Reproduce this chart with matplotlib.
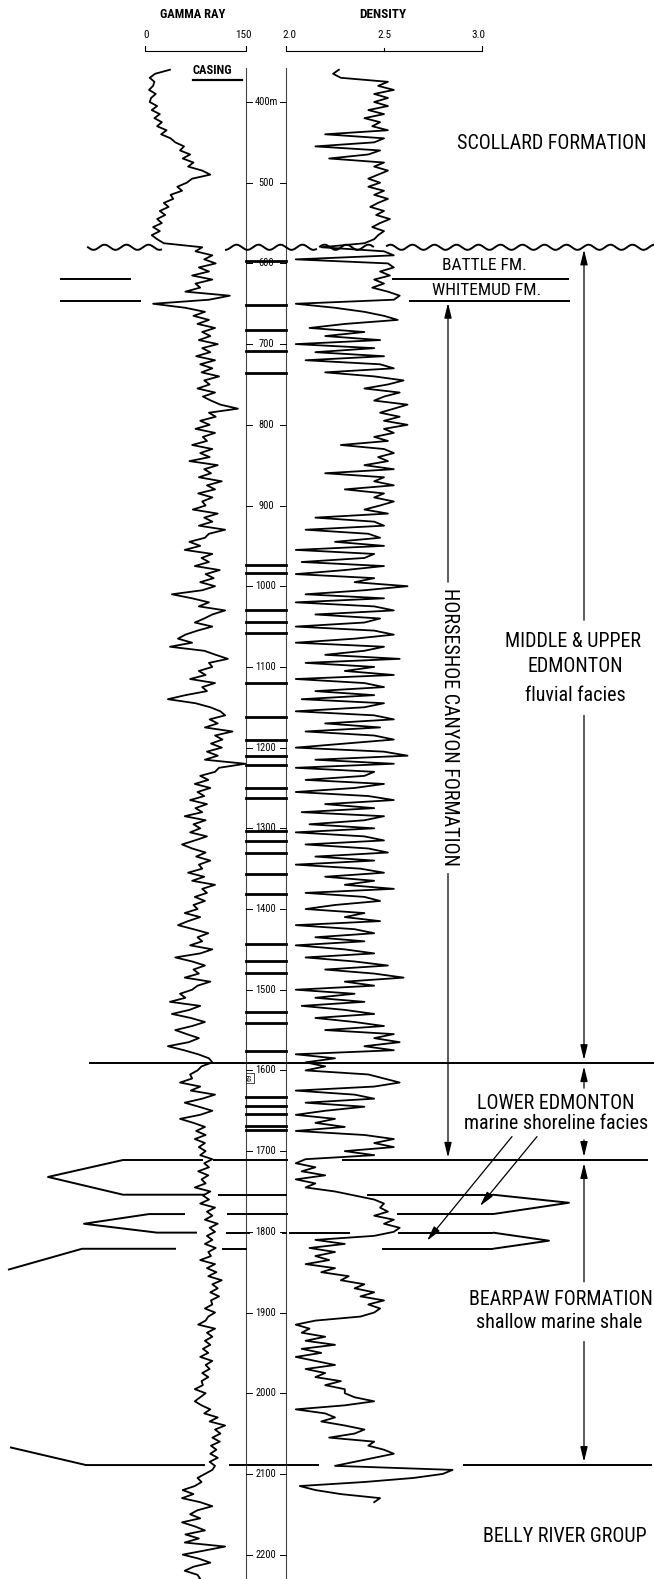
import numpy as np
import matplotlib.pyplot as plt
from matplotlib import font_manager as fm

W, H = 654, 1579
TOP, BOTTOM = 273.6, 2230.2          # depth (m) at the top / bottom edge of the sheet

# condensed lettering if a narrow face is installed, otherwise shrink a normal one
avail = {f.name for f in fm.fontManager.ttflist}
FAM, K = 'DejaVu Sans', 0.78
for name, k in [('Liberation Sans Narrow', 1.0), ('Roboto Condensed', 1.0),
                ('Liberation Sans', 0.85), ('Roboto', 0.87)]:
    if name in avail:
        FAM, K = name, k
        break
NARROW = [FAM, 'DejaVu Sans']

# gamma ray log (API), every 5 m from 360 m
gr_depth = np.arange(360, 2240, 5)
gr_api = [37, 15, 7, 14, 12, 6, 16, 9,
          7, 18, 10, 22, 14, 25, 18, 32, 24, 38, 45, 58, 52, 67, 56, 72, 64, 85, 97, 70,
          62, 48, 55, 38, 42, 28, 35, 22, 30, 18, 25, 12, 22, 10, 18, 28, 85, 75, 100, 88,
          105, 80, 95, 70, 100, 75, 82, 60, 126, 95, 12, 60, 89, 72, 95, 78, 104, 85, 97, 80,
          108, 85, 97, 76, 104, 82, 100, 84, 110, 88, 96, 78, 104, 86, 98, 112, 138, 95, 105, 82,
          96, 75, 104, 86, 92, 70, 100, 82, 96, 66, 108, 88, 98, 80, 114, 92, 104, 79, 100, 85,
          90, 71, 108, 88, 100, 80, 119, 95, 89, 66, 82, 59, 100, 84, 95, 74, 111, 90, 102, 82,
          104, 85, 40, 70, 95, 80, 119, 100, 88, 74, 100, 78, 60, 49, 70, 37, 88, 105, 123, 95,
          100, 80, 90, 67, 104, 85, 92, 60, 34, 75, 97, 112, 119, 96, 108, 89, 130, 104, 115, 98,
          114, 92, 108, 89, 149, 110, 104, 82, 94, 74, 97, 78, 88, 67, 92, 75, 85, 59, 90, 72,
          82, 67, 92, 74, 55, 70, 90, 76, 97, 80, 85, 64, 88, 70, 104, 85, 92, 74, 89, 72,
          78, 59, 82, 64, 49, 72, 94, 78, 85, 67, 100, 82, 45, 70, 89, 72, 80, 59, 97, 78,
          70, 52, 60, 37, 82, 66, 40, 68, 89, 70, 45, 62, 80, 65, 34, 58, 79, 95, 100, 84,
          78, 67, 70, 52, 82, 68, 104, 85, 59, 80, 100, 82, 52, 72, 89, 76, 90, 74, 89, 80,
          90, 82, 100, 88, 95, 79, 94, 84, 90, 74, 97, 86, 95, 82, 104, 92, 100, 89, 108, 96,
          104, 92, 100, 89, 105, 94, 98, 82, 104, 92, 106, 94, 114, 100, 108, 97, 110, 98, 100, 89,
          104, 94, 90, 79, 104, 92, 100, 89, 97, 86, 94, 82, 100, 90, 96, 85, 94, 84, 86, 74,
          90, 82, 74, 84, 97, 88, 108, 96, 119, 104, 112, 100, 111, 98, 106, 97, 108, 96, 104, 100,
          89, 78, 84, 74, 56, 72, 55, 82, 100, 78, 67, 82, 55, 74, 89, 60, 80, 59, 119, 88,
          56, 80, 97, 72, 59, 78, 82, 70]

# bulk density log (g/cc), every 5 m from 360 m
den_depth = np.arange(360, 2140, 5)
den_rho = [2.27, 2.24, 2.28, 2.52, 2.47, 2.55, 2.45, 2.52,
           2.45, 2.52, 2.42, 2.50, 2.40, 2.48, 2.44, 2.52, 2.20, 2.50, 2.45, 2.15, 2.48, 2.42, 2.22, 2.50, 2.45, 2.52, 2.47, 2.42,
           2.48, 2.42, 2.50, 2.45, 2.52, 2.47, 2.43, 2.50, 2.46, 2.53, 2.48, 2.44, 2.50, 2.47, 2.45, 2.40, 2.18, 2.50, 2.55, 2.05,
           2.52, 2.55, 2.48, 2.53, 2.45, 2.50, 2.44, 2.52, 2.58, 2.55, 2.05, 2.25, 2.40, 2.50, 2.57, 2.30, 2.12, 2.40, 2.20, 2.48,
           2.05, 2.45, 2.15, 2.50, 2.10, 2.48, 2.55, 2.20, 2.45, 2.60, 2.52, 2.40, 2.58, 2.50, 2.45, 2.62, 2.55, 2.48, 2.58, 2.50,
           2.62, 2.50, 2.55, 2.45, 2.52, 2.28, 2.50, 2.55, 2.47, 2.52, 2.40, 2.55, 2.20, 2.50, 2.45, 2.55, 2.30, 2.50, 2.45, 2.55,
           2.48, 2.40, 2.52, 2.15, 2.45, 2.50, 2.10, 2.42, 2.48, 2.25, 2.50, 2.05, 2.45, 2.40, 2.08, 2.50, 2.30, 2.05, 2.45, 2.35,
           2.62, 2.40, 2.10, 2.50, 2.05, 2.45, 2.55, 2.15, 2.48, 2.40, 2.05, 2.45, 2.55, 2.35, 2.05, 2.50, 2.40, 2.20, 2.58, 2.10,
           2.45, 2.30, 2.55, 2.05, 2.40, 2.50, 2.15, 2.45, 2.08, 2.50, 2.40, 2.05, 2.45, 2.55, 2.20, 2.48, 2.10, 2.45, 2.55, 2.30,
           2.05, 2.50, 2.62, 2.15, 2.55, 2.05, 2.45, 2.40, 2.10, 2.50, 2.35, 2.05, 2.42, 2.55, 2.20, 2.45, 2.08, 2.50, 2.40, 2.12,
           2.45, 2.05, 2.40, 2.50, 2.10, 2.42, 2.52, 2.15, 2.45, 2.05, 2.38, 2.50, 2.20, 2.45, 2.30, 2.55, 2.10, 2.40, 2.48, 2.25,
           2.10, 2.40, 2.30, 2.48, 2.05, 2.35, 2.45, 2.15, 2.40, 2.05, 2.30, 2.45, 2.10, 2.35, 2.52, 2.20, 2.45, 2.60, 2.30, 2.45,
           2.05, 2.35, 2.15, 2.40, 2.08, 2.30, 2.45, 2.15, 2.35, 2.50, 2.20, 2.55, 2.45, 2.58, 2.40, 2.55, 2.05, 2.25, 2.10, 2.20,
           2.10, 2.42, 2.50, 2.58, 2.45, 2.05, 2.35, 2.45, 2.10, 2.40, 2.20, 2.05, 2.25, 2.15, 2.30, 2.05, 2.40, 2.55, 2.45, 2.55,
           2.30, 2.45, 2.10, 2.05, 2.15, 2.08, 2.20, 2.05, 2.15, 2.10, 2.25, 2.35, 2.45, 2.50, 2.48, 2.52, 2.45, 2.55, 2.50, 2.58,
           2.55, 2.45, 2.15, 2.30, 2.12, 2.25, 2.15, 2.22, 2.10, 2.25, 2.18, 2.32, 2.28, 2.40, 2.35, 2.45, 2.38, 2.50, 2.42, 2.48,
           2.45, 2.38, 2.15, 2.05, 2.12, 2.08, 2.20, 2.10, 2.25, 2.08, 2.18, 2.05, 2.15, 2.25, 2.10, 2.20, 2.15, 2.28, 2.20, 2.30,
           2.30, 2.35, 2.45, 2.30, 2.05, 2.20, 2.25, 2.18, 2.30, 2.40, 2.35, 2.22, 2.45, 2.42, 2.50, 2.55, 2.45, 2.35, 2.25, 2.85,
           2.80, 2.65, 2.40, 2.07, 2.15, 2.28, 2.48, 2.45]

# coal seams marked in the depth column (m)
coal_depths = [597, 651, 682, 709, 736, 974, 984, 1029, 1044, 1058, 1120, 1162,
               1190, 1210, 1222, 1250, 1262, 1303, 1316, 1330, 1356, 1382, 1443,
               1465, 1479, 1527, 1541, 1576, 1633, 1644, 1654, 1669, 1674]
depth_ticks = np.arange(400, 2201, 100)
depth_labels = ['400m'] + [str(d) for d in depth_ticks[1:]]

# formation picks (m)
unconformity = 580
battle_top, whitemud_top = 619, 647
lower_edm_top, bearpaw_top, belly_top = 1591, 1711, 2089

fig = plt.figure(figsize=(W / 100, H / 100), dpi=100)
ax = fig.add_axes([0, 0, 1, 1])
ax.set_xlim(0, W)
ax.set_ylim(BOTTOM, TOP)
ax.axis('off')

ax_gr = fig.add_axes([145 / W, 0, 101 / W, 1])
ax_gr.set_xlim(0, 150)
ax_den = fig.add_axes([286 / W, 0, 196 / W, 1])
ax_den.set_xlim(2.0, 3.0)
for a in (ax_gr, ax_den):
    a.set_ylim(BOTTOM, TOP)
    a.axis('off')
    a.patch.set_alpha(0)

ax_gr.plot(gr_api, gr_depth, color='k', lw=1.3, clip_on=False)
ax_den.plot(den_rho, den_depth, color='k', lw=1.3, clip_on=False)


def label(x, d, s, size, **kw):
    kw.setdefault('ha', 'center')
    kw.setdefault('va', 'center')
    return ax.text(x, d, s, fontsize=size * K, family=NARROW, **kw)


# headers and scales
label(193, 292, 'GAMMA RAY', 9, fontweight='bold')
label(383, 292, 'DENSITY', 9.5, fontweight='bold')
for x, s in [(146, '0'), (243, '150'), (289, '2.0'), (384, '2.5'), (478, '3.0')]:
    label(x, 317, s, 8)
ax.plot([145, 145, 246, 246], [331, 337, 337, 331], color='k', lw=0.8)
ax.plot([286, 286, 482, 482], [331, 337, 337, 331], color='k', lw=0.8)
ax.plot([384, 384], [333, 337], color='k', lw=0.8)

# depth column
ax.plot([246, 246], [358, BOTTOM], color='#444', lw=0.8)
ax.plot([286, 286], [358, BOTTOM], color='#444', lw=0.8)
for d, s in zip(depth_ticks, depth_labels):
    ax.plot([246, 252], [d, d], color='k', lw=0.7)
    ax.plot([280, 286], [d, d], color='k', lw=0.7)
    label(266, d, s, 7.5)
for d in coal_depths:
    ax.plot([246, 286], [d, d], color='k', lw=2.0)
label(250, 1609, '69', 5.5, rotation=90,
      bbox=dict(boxstyle='square,pad=0.15', fc='white', ec='k', lw=0.5))
label(212, 361.5, 'CASING', 9, fontweight='bold')
ax.plot([193, 242], [372.7, 372.7], color='k', lw=1.6)

# unconformity (wavy line)
for x0, x1 in [(88, 161), (226, 316), (320, 373), (387, 654)]:
    xs = np.linspace(x0, x1, 200)
    ax.plot(xs, unconformity + 3.2 * np.sin(2 * np.pi * (xs - 88) / 22), color='k', lw=1.4)

# formation boundaries
line_kw = dict(color='k', lw=1.4, solid_capstyle='butt')
segments = [(battle_top, [(60, 131), (392, 569)]),
            (whitemud_top, [(60, 141), (409, 570)]),
            (lower_edm_top, [(89, 654)]),
            (bearpaw_top, [(213, 288), (342, 648)]),
            (1754, [(218, 287), (367, 493)]),
            (1778, [(227, 288), (397, 493)]),
            (1801, [(226, 250), (282, 287), (289, 350), (398, 493)]),
            (1821, [(222, 247), (382, 493)]),
            (belly_top, [(229, 319), (463, 652)])]
for d, spans in segments:
    for x0, x1 in spans:
        ax.plot([x0, x1], [d, d], **line_kw)

# tongues of shoreline sandstone pinching into the Bearpaw
ax.plot([203, 123, 48, 123, 205], [1711, 1711, 1732, 1754, 1754], **line_kw)
ax.plot([185, 149, 84, 157, 197], [1778, 1778, 1790, 1801, 1801], **line_kw)
ax.plot([176, 82, 8], [1821, 1821, 1847], **line_kw)
ax.plot([205, 86, 10], [belly_top, belly_top, 2067], **line_kw)
ax.plot([493, 569, 493], [1754, 1764, 1778], **line_kw)
ax.plot([493, 549, 493], [1801, 1811, 1821], **line_kw)


# arrows
def arrow(x0, d0, x1, d1):
    ax.annotate('', xy=(x1, d1), xytext=(x0, d0),
                arrowprops=dict(arrowstyle='-|>,head_length=0.9,head_width=0.22',
                                color='k', lw=0.9, shrinkA=0, shrinkB=0))


arrow(448, 995, 448, 649)
arrow(448, 1356, 448, 1708)
arrow(584, 1042, 584, 583)
arrow(584, 1160, 584, 1587)
arrow(584, 1622, 584, 1595)
arrow(584, 1686, 584, 1707)
arrow(584, 1862, 584, 1715)
arrow(584, 1936, 584, 2085)
arrow(537, 1682, 480, 1768)
arrow(512, 1682, 427, 1811)

# labels
label(552, 451, 'SCOLLARD FORMATION', 14.4)
label(484, 603, 'BATTLE FM.', 12.5)
label(487, 634, 'WHITEMUD FM.', 12.5)
label(449, 1174, 'HORSESHOE CANYON FORMATION', 14.4, rotation=270)
label(573, 1068, 'MIDDLE & UPPER', 14.4)
label(575, 1100, 'EDMONTON', 14.4)
label(575, 1135, 'fluvial facies', 14.4)
label(556, 1641, 'LOWER EDMONTON', 14.4)
label(556, 1666, 'marine shoreline facies', 14.4)
label(561, 1884, 'BEARPAW FORMATION', 14.4)
label(559, 1912, 'shallow marine shale', 14.4)
label(565, 2178, 'BELLY RIVER GROUP', 14.4)

fig.savefig('out.png', dpi=100)
